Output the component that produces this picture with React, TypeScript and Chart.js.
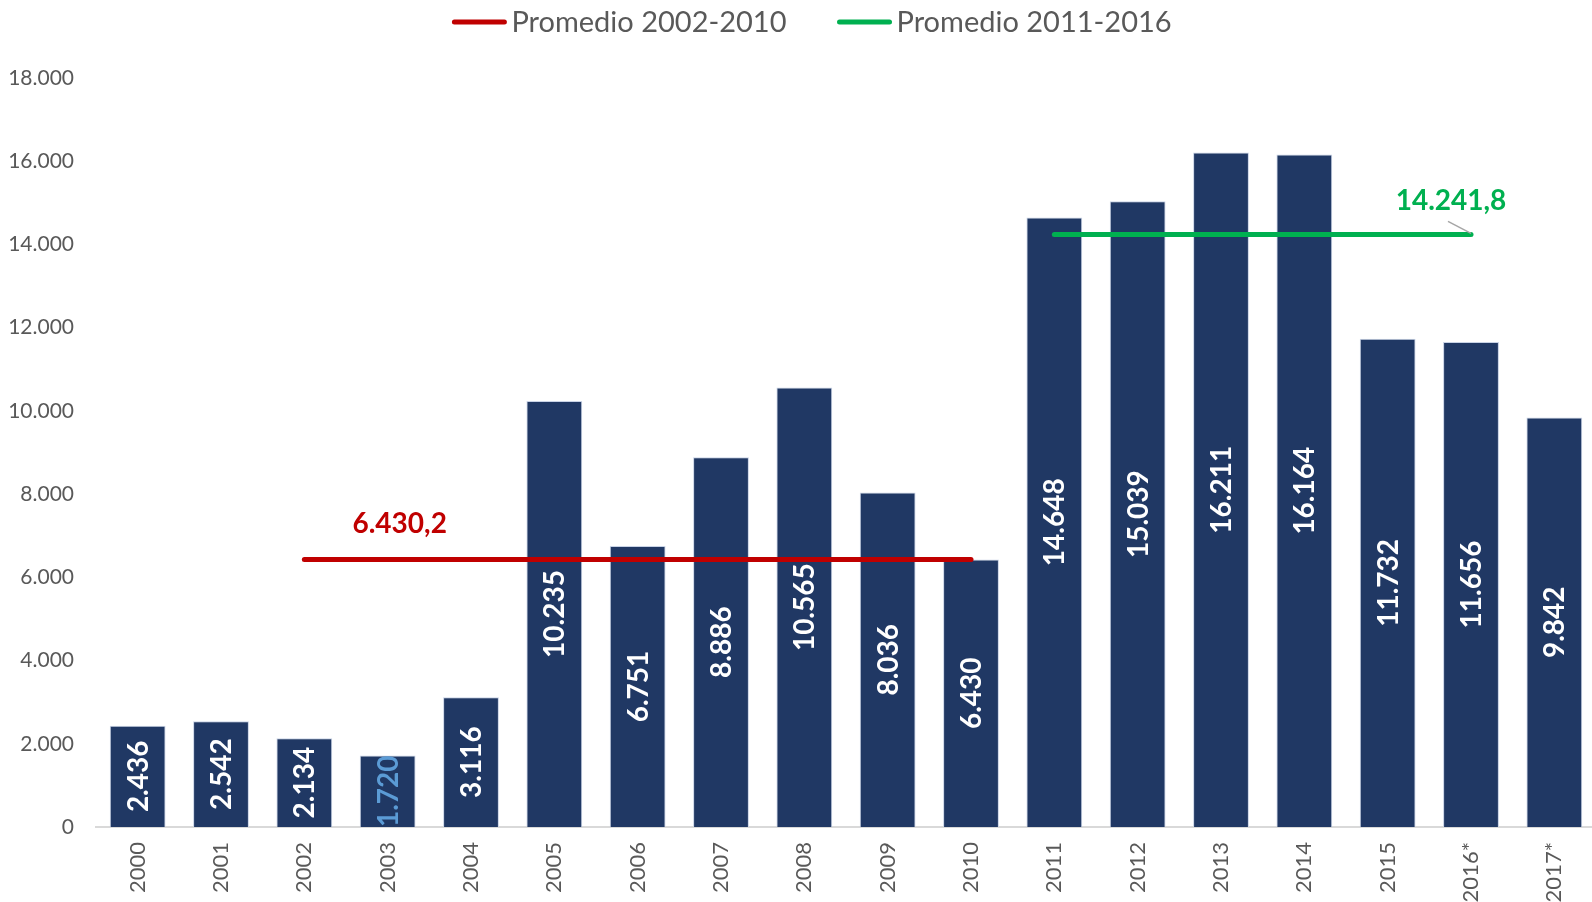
import React, { useEffect, useRef } from 'react';
import { Chart, registerables } from 'chart.js';

Chart.register(...registerables);

const years = ['2000', '2001', '2002', '2003', '2004', '2005', '2006', '2007', '2008', '2009', '2010', '2011', '2012', '2013', '2014', '2015', '2016*', '2017*'];
const values = [2436, 2542, 2134, 1720, 3116, 10235, 6751, 8886, 10565, 8036, 6430, 14648, 15039, 16211, 16164, 11732, 11656, 9842];
const valueLabelColors = ['#FFFFFF', '#FFFFFF', '#FFFFFF', '#5B9BD5', '#FFFFFF', '#FFFFFF', '#FFFFFF', '#FFFFFF', '#FFFFFF', '#FFFFFF', '#FFFFFF', '#FFFFFF', '#FFFFFF', '#FFFFFF', '#FFFFFF', '#FFFFFF', '#FFFFFF', '#FFFFFF'];
const avgNames = ['Promedio 2002-2010', 'Promedio 2011-2016'];
const avgValues = [6430.2, 14241.8];
const avgStart = [2, 11];
const avgEnd = [10, 16];
const avgColors = ['#C00000', '#00B050'];
const avgLabelText = ['6.430,2', '14.241,8'];
const yTicksMax = 18000;
const yTickStep = 2000;

const FONT = 'Lato, "Open Sans", sans-serif';
const BAR_COLOR = '#203864';
const TEXT_GREY = '#595959';
const VIEW_W = 1592;
const CANVAS_W = 1596;
const CANVAS_H = 902;

function fmt(n: number): string {
  const s = Math.round(n).toString();
  return s.replace(/\B(?=(\d{3})+(?!\d))/g, '.');
}

function avgSeries(k: number): (number | null)[] {
  return years.map((_, i) => (i >= avgStart[k] && i <= avgEnd[k] ? avgValues[k] : null));
}

const labelsPlugin = {
  id: 'customLabels',
  afterDatasetsDraw(chart: any) {
    const ctx = chart.ctx;
    const meta = chart.getDatasetMeta(0);
    ctx.save();
    ctx.font = `bold 28px ${FONT}`;
    ctx.textAlign = 'center';
    ctx.textBaseline = 'middle';
    meta.data.forEach((bar: any, i: number) => {
      const p = bar.getProps(['x', 'y', 'base'], true);
      ctx.save();
      ctx.translate(p.x, (p.y + p.base) / 2);
      ctx.rotate(-Math.PI / 2);
      ctx.fillStyle = valueLabelColors[i];
      ctx.fillText(fmt(values[i]), 0, 1);
      ctx.restore();
    });
    const xs = chart.scales.x;
    const ys = chart.scales.y;
    const rx = xs.getPixelForValue(3) + 12;
    const ry = ys.getPixelForValue(avgValues[0]) - 35;
    ctx.fillStyle = avgColors[0];
    ctx.fillText(avgLabelText[0], rx, ry);
    const gEnd = xs.getPixelForValue(avgEnd[1]);
    const gy = ys.getPixelForValue(avgValues[1]);
    ctx.fillStyle = avgColors[1];
    ctx.fillText(avgLabelText[1], gEnd - 20, gy - 33);
    ctx.strokeStyle = '#A6A6A6';
    ctx.lineWidth = 1.5;
    ctx.beginPath();
    ctx.moveTo(gEnd - 23, gy - 13);
    ctx.lineTo(gEnd, gy - 1);
    ctx.stroke();
    ctx.restore();
  },
  afterDraw(chart: any) {
    const ctx = chart.ctx;
    ctx.save();
    ctx.font = `29px ${FONT}`;
    ctx.textBaseline = 'middle';
    const lineW = 54;
    const gap = 5;
    const itemGap = 51;
    const widths = avgNames.map((n) => lineW + gap + ctx.measureText(n).width);
    const total = widths.reduce((a, b) => a + b, 0) + itemGap * (avgNames.length - 1);
    let x = (VIEW_W - total) / 2 + 16;
    const y = 22;
    avgNames.forEach((n, k) => {
      ctx.strokeStyle = avgColors[k];
      ctx.lineWidth = 5;
      ctx.lineCap = 'round';
      ctx.beginPath();
      ctx.moveTo(x + 2, y);
      ctx.lineTo(x + lineW - 2, y);
      ctx.stroke();
      ctx.fillStyle = TEXT_GREY;
      ctx.fillText(n, x + lineW + gap, y + 1);
      x += widths[k] + itemGap;
    });
    ctx.restore();
  },
};

export default function App() {
  const ref = useRef<HTMLCanvasElement | null>(null);
  useEffect(() => {
    document.body.style.margin = '0';
    if (!ref.current) return;
    const chart = new Chart(ref.current, {
      type: 'bar',
      data: {
        labels: years,
        datasets: [
          {
            type: 'bar',
            label: 'Valor',
            data: values,
            backgroundColor: BAR_COLOR,
            borderColor: '#C9D3E6',
            borderWidth: 1,
            categoryPercentage: 1,
            barPercentage: 0.67,
            order: 2,
          } as any,
          {
            type: 'line',
            label: avgNames[0],
            data: avgSeries(0),
            borderColor: avgColors[0],
            backgroundColor: avgColors[0],
            borderWidth: 5,
            borderCapStyle: 'round',
            pointRadius: 0,
            spanGaps: false,
            order: 1,
          } as any,
          {
            type: 'line',
            label: avgNames[1],
            data: avgSeries(1),
            borderColor: avgColors[1],
            backgroundColor: avgColors[1],
            borderWidth: 5,
            borderCapStyle: 'round',
            pointRadius: 0,
            spanGaps: false,
            order: 1,
          } as any,
        ],
      },
      options: {
        responsive: false,
        animation: false,
        layout: { padding: { top: 78, left: 0, right: 0, bottom: 0 } },
        plugins: {
          legend: { display: false },
          tooltip: { enabled: false },
        },
        scales: {
          x: {
            grid: { display: false, drawTicks: false },
            border: { display: true, color: '#D9D9D9', width: 2 },
            ticks: {
              color: TEXT_GREY,
              font: { family: FONT, size: 22 },
              minRotation: 90,
              maxRotation: 90,
              autoSkip: false,
              padding: 15,
            },
            afterFit: (s: any) => {
              s.height = 75;
              s.paddingRight = 0;
              s.paddingLeft = 0;
            },
          },
          y: {
            min: 0,
            max: yTicksMax,
            grid: { display: false, drawTicks: false },
            border: { display: false },
            ticks: {
              stepSize: yTickStep,
              color: TEXT_GREY,
              font: { family: FONT, size: 21 },
              padding: 22,
              callback: (v: any) => fmt(Number(v)),
            },
            afterFit: (s: any) => {
              s.width = 96;
            },
          },
        },
      },
      plugins: [labelsPlugin],
    });
    return () => chart.destroy();
  }, []);
  return (
    <div style={{ width: VIEW_W, height: CANVAS_H, overflow: 'hidden' }}>
      <canvas ref={ref} width={CANVAS_W} height={CANVAS_H} style={{ display: 'block' }} />
    </div>
  );
}
